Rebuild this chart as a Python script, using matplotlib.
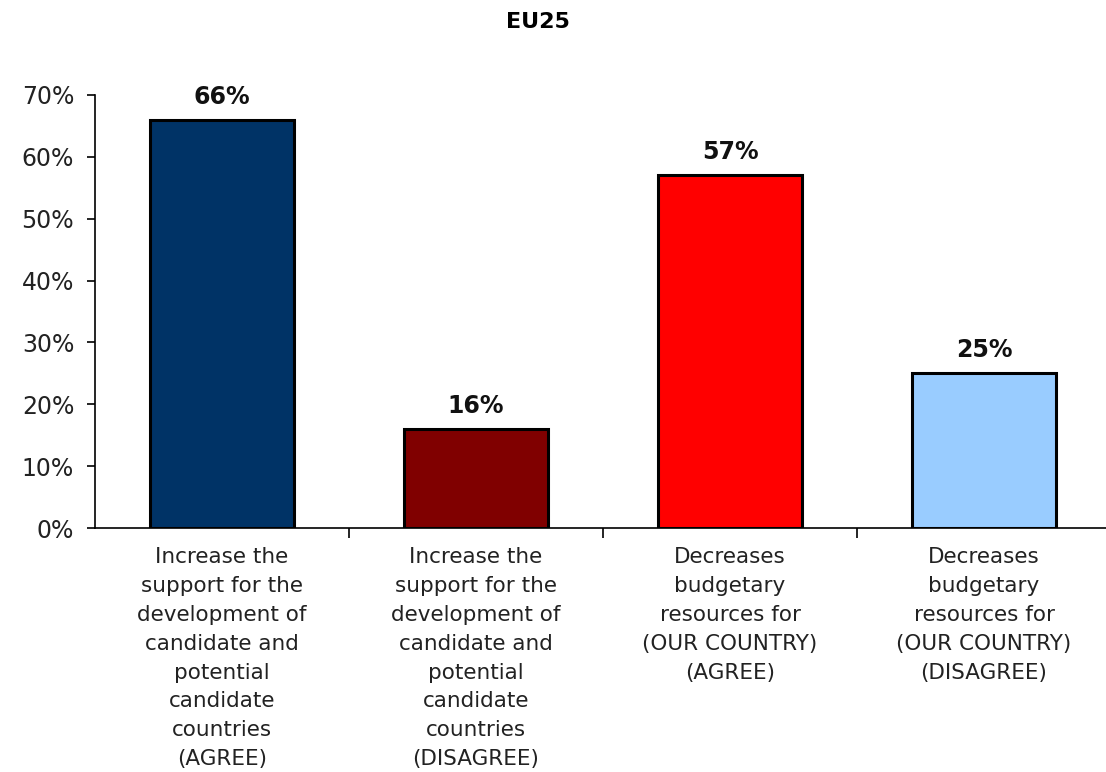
import matplotlib.pyplot as plt
import numpy as np

# data
categories = [
    'Increase the\nsupport for the\ndevelopment of\ncandidate and\npotential\ncandidate\ncountries\n(AGREE)',
    'Increase the\nsupport for the\ndevelopment of\ncandidate and\npotential\ncandidate\ncountries\n(DISAGREE)',
    'Decreases\nbudgetary\nresources for\n(OUR COUNTRY)\n(AGREE)',
    'Decreases\nbudgetary\nresources for\n(OUR COUNTRY)\n(DISAGREE)',
]
values = [66, 16, 57, 25]
colors = ['#003366', '#800000', '#FF0000', '#99CCFF']

fig = plt.figure(figsize=(11.06, 7.72), dpi=100)
ax = fig.add_axes([95 / 1106, 244 / 772, 1016 / 1106, 433 / 772])

x = np.arange(len(values))
bars = ax.bar(x, values, width=0.567, color=colors, edgecolor='black', linewidth=2.2)

# value labels above bars
for rect, v in zip(bars, values):
    ax.annotate('{:d}%'.format(v),
                xy=(rect.get_x() + rect.get_width() / 2, rect.get_height()),
                xytext=(0, 8), textcoords='offset points',
                ha='center', va='bottom', fontsize=17, fontweight='bold',
                color='#111111')

ax.set_xlim(-0.5, 3.5)
ax.set_ylim(0, 70)
ax.set_yticks(range(0, 71, 10))
ax.set_yticklabels(['{}%'.format(t) for t in range(0, 71, 10)], fontsize=17, color='#222222')
ax.tick_params(axis='y', direction='out', length=6, width=1.2, pad=9)

ax.set_xticks(x)
ax.set_xticklabels(categories, fontsize=15.5, color='#222222')
for t in ax.get_xticklabels():
    t.set_linespacing(1.55)
ax.tick_params(axis='x', which='major', length=0, pad=14)
ax.set_xticks([0.5, 1.5, 2.5], minor=True)
ax.tick_params(axis='x', which='minor', direction='out', length=7, width=1.2)

for s in ['top', 'right']:
    ax.spines[s].set_visible(False)
ax.spines['left'].set_linewidth(1.2)
ax.spines['bottom'].set_linewidth(1.2)

fig.text(538 / 1106, 1 - 22 / 772, 'EU25', ha='center', va='center', fontsize=16, fontweight='bold')

plt.savefig('out.png', dpi=100)
